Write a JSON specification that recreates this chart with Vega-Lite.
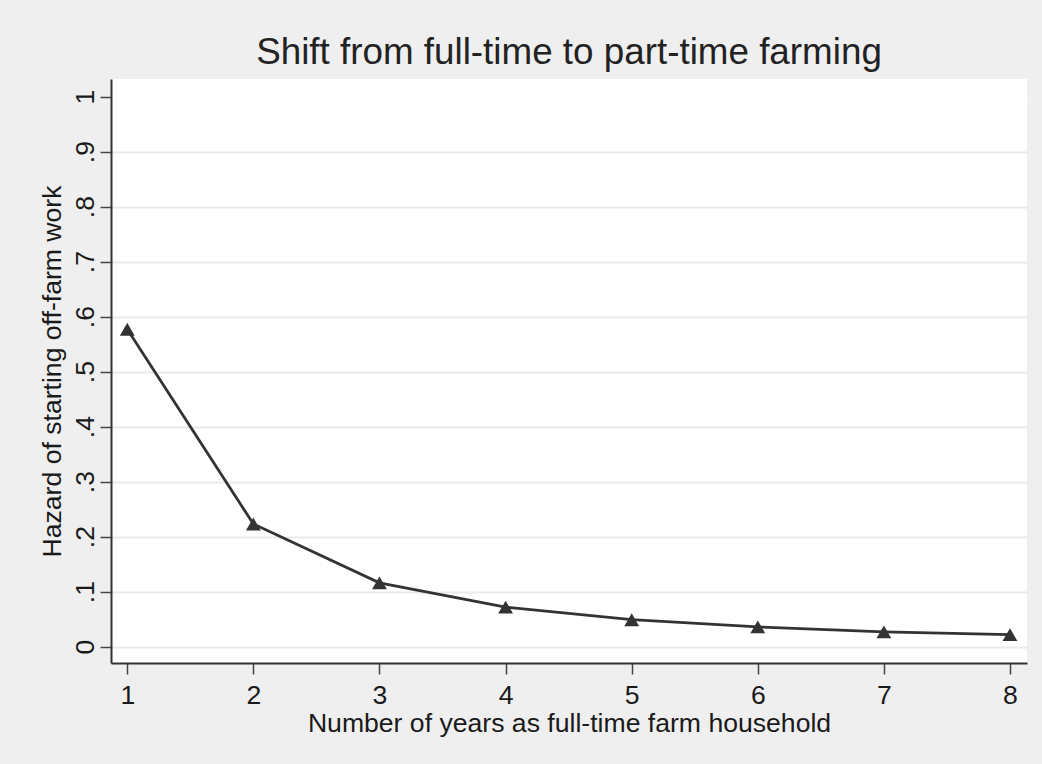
{
  "$schema": "https://vega.github.io/schema/vega-lite/v6.json",
  "autosize": {"type": "none"},
  "width": 916,
  "height": 584,
  "padding": {"left": 111, "top": 79, "right": 15, "bottom": 101},
  "background": "#efefef",
  "title": {
    "text": "Shift from full-time to part-time farming",
    "font": "Liberation Sans",
    "fontSize": 36.8,
    "fontWeight": "normal",
    "color": "#222222",
    "anchor": "middle",
    "baseline": "alphabetic",
    "offset": -22
  },
  "config": {
    "view": {"fill": "white", "stroke": null},
    "axis": {
      "labelFont": "Liberation Sans",
      "titleFont": "Liberation Sans",
      "labelColor": "#1a1a1a",
      "titleColor": "#1a1a1a",
      "titleFontWeight": "normal",
      "domainColor": "#333333",
      "domainWidth": 2,
      "tickColor": "#444444",
      "tickWidth": 1.5,
      "tickSize": 11
    }
  },
  "data": {
    "values": [
      {"years": 1, "hazard": 0.577},
      {"years": 2, "hazard": 0.223},
      {"years": 3, "hazard": 0.116},
      {"years": 4, "hazard": 0.072},
      {"years": 5, "hazard": 0.049},
      {"years": 6, "hazard": 0.036},
      {"years": 7, "hazard": 0.027},
      {"years": 8, "hazard": 0.022}
    ]
  },
  "encoding": {
    "x": {
      "field": "years",
      "type": "quantitative",
      "scale": {"domain": [0.871, 8.135], "nice": false, "zero": false},
      "axis": {
        "title": "Number of years as full-time farm household",
        "values": [1, 2, 3, 4, 5, 6, 7, 8],
        "grid": false,
        "labelFontSize": 26.6,
        "titleFontSize": 26.6,
        "labelPadding": 8,
        "titlePadding": 2,
        "labelFlush": false
      }
    },
    "y": {
      "field": "hazard",
      "type": "quantitative",
      "scale": {"domain": [-0.0297, 1.032], "nice": false, "zero": false},
      "axis": {
        "title": "Hazard of starting off-farm work",
        "values": [0, 0.1, 0.2, 0.3, 0.4, 0.5, 0.6, 0.7, 0.8, 0.9, 1],
        "labelExpr": "datum.value == 0 ? '0' : datum.value == 1 ? '1' : replace(format(datum.value, '.1f'), '0.', '.')",
        "labelAngle": 270,
        "labelAlign": "center",
        "labelBaseline": "alphabetic",
        "labelFontSize": 26.6,
        "titleFontSize": 26.6,
        "labelPadding": 7,
        "titlePadding": 6,
        "labelFlush": false,
        "grid": true,
        "gridColor": {"condition": {"test": "datum.value == 1", "value": "white"}, "value": "#eaeaea"},
        "gridWidth": 2
      }
    }
  },
  "layer": [
    {
      "mark": {"type": "line", "color": "#333333", "strokeWidth": 2.8}
    },
    {
      "mark": {"type": "point", "shape": "triangle-up", "filled": true, "color": "#333333", "opacity": 1, "size": 220}
    }
  ]
}
